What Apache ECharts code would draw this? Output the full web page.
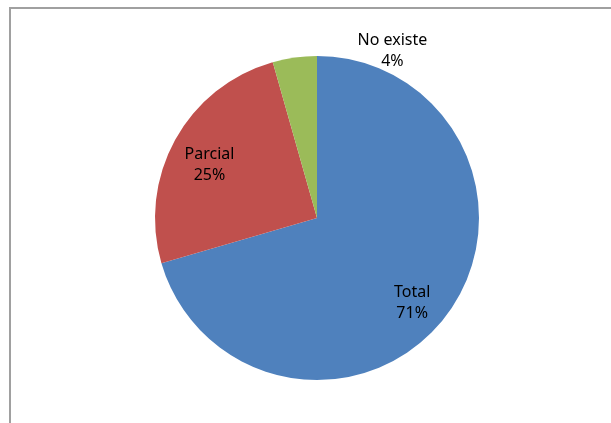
<!DOCTYPE html>
<html>
<head>
<meta charset="utf-8">
<script src="https://cdn.jsdelivr.net/npm/echarts@6.0.0/dist/echarts.min.js"></script>
<style>
  html, body { margin: 0; padding: 0; background: #fff; }
  #root { width: 611px; height: 423px; }
</style>
</head>
<body>
<div id="root"></div>
<script>
  // slices, clockwise from 12 o'clock
  const categories = ['Total', 'Parcial', 'No existe']
  const values = [70.5, 25.1, 4.4]
  const colors = ['#4F81BD', '#C0504D', '#9BBB59']
  // label nudges from the default inside spot
  const labelOffsets = [[28, 35], [-34, -12], [87, -84]]

  const chart = echarts.init(document.getElementById('root'))

  const data = categories.map((name, i) => ({
    name,
    value: values[i],
    itemStyle: { color: colors[i] },
    label: { offset: labelOffsets[i] }
  }))

  chart.setOption({
    animation: false,
    graphic: [
      {
        type: 'rect',
        shape: { x: 10, y: 8, width: 700, height: 500 },
        style: { fill: 'none', stroke: '#a0a0a0', lineWidth: 2 },
        silent: true
      }
    ],
    series: [
      {
        type: 'pie',
        center: [317, 218],
        radius: [0, 162],
        startAngle: 90,
        clockwise: true,
        data,
        label: {
          show: true,
          position: 'inside',
          formatter: p => p.name + '\n' + Math.round(p.percent) + '%',
          color: '#000',
          fontFamily: 'Noto Sans',
          fontSize: 16,
          lineHeight: 21,
          align: 'center'
        },
        labelLine: { show: false },
        emphasis: { disabled: true }
      }
    ]
  })
</script>
</body>
</html>
